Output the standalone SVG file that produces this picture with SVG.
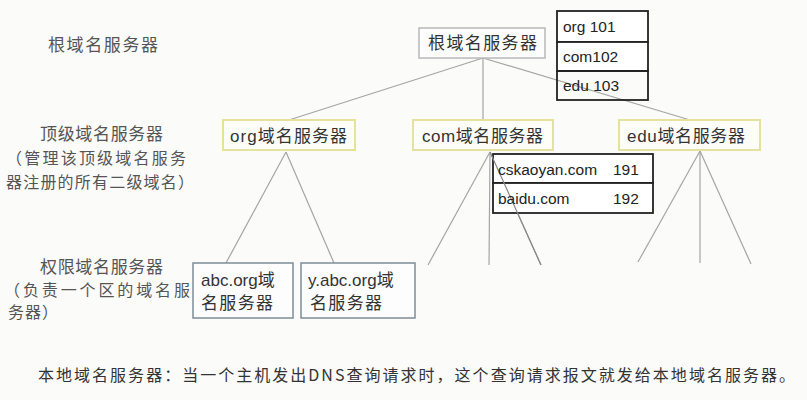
<svg xmlns="http://www.w3.org/2000/svg" width="807" height="400" viewBox="0 0 807 400">
<style>
.bg{fill:#fbfbfa}
.cn{font-family:"Noto Sans CJK SC","Liberation Sans",sans-serif}
.lab{font-family:"Noto Sans CJK SC",sans-serif;font-size:16px;fill:#555}
.box{font-family:"Liberation Sans","Noto Sans CJK SC",sans-serif;font-size:17px;fill:#333}
.tb{font-family:"Liberation Sans","Noto Sans CJK SC",sans-serif;font-size:15.5px;fill:#222}
.yel{fill:#fefef9;stroke:#e4e29c;stroke-width:2}
.gry{fill:#fdfdfd;stroke:#b8b8b8;stroke-width:1.5}
.blu{fill:#fdfdfd;stroke:#7f8c98;stroke-width:1.5}
.tab{fill:#fff;stroke:#222;stroke-width:1.8}
.ln{stroke:#a5a5a5;stroke-width:1.2;fill:none}
</style>
<rect class="bg" x="0" y="0" width="807" height="400"/>

<g id="labels">
<text class="lab" x="48" y="51" textLength="110" lengthAdjust="spacing" style="font-size:17px">根域名服务器</text>
<text class="lab" x="40" y="140" textLength="123" lengthAdjust="spacing" style="font-size:17px">顶级域名服务器</text>
<text class="lab" x="6" y="164" textLength="180" lengthAdjust="spacing">（管理该顶级域名服务</text>
<text class="lab" x="6" y="188" textLength="188" lengthAdjust="spacing">器注册的所有二级域名）</text>
<text class="lab" x="40" y="273" textLength="123" lengthAdjust="spacing" style="font-size:17px">权限域名服务器</text>
<text class="lab" x="4" y="296" textLength="186" lengthAdjust="spacing">（负责一个区的域名服</text>
<text class="lab" x="8" y="318" textLength="50" lengthAdjust="spacing">务器）</text>
<text class="lab" x="38" y="381" textLength="757" lengthAdjust="spacing" style="fill:#333;font-size:16px">本地域名服务器：当一个主机发出DNS查询请求时，这个查询请求报文就发给本地域名服务器。</text>
</g>

<g id="connectors">
<line class="ln" x1="483" y1="58" x2="289" y2="120"/>
<line class="ln" x1="483" y1="58" x2="483" y2="120"/>
<line class="ln" x1="483" y1="58" x2="690" y2="120"/>
<line class="ln" x1="286" y1="152" x2="226" y2="263"/>
<line class="ln" x1="286" y1="152" x2="334" y2="263"/>
<line class="ln" x1="490" y1="152" x2="428" y2="265"/>
<line class="ln" x1="490" y1="152" x2="489" y2="265"/>
<line class="ln" x1="490" y1="152" x2="541" y2="265"/>
<line class="ln" x1="700" y1="151" x2="638" y2="262"/>
<line class="ln" x1="700" y1="151" x2="700" y2="263"/>
<line class="ln" x1="700" y1="151" x2="751" y2="264"/>
</g>

<g id="root">
<rect class="gry" x="419" y="28" width="126" height="30"/>
<text class="box cn" x="428" y="49" textLength="109" lengthAdjust="spacing">根域名服务器</text>
</g>

<g id="root-table">
<rect class="tab" x="557" y="11" width="91" height="31" style="fill:#fff"/>
<rect class="tab" x="557" y="42" width="91" height="29" style="fill:#fff"/>
<rect class="tab" x="557" y="71" width="91" height="29" style="fill:none"/>
<text class="tb" x="563" y="32">org 101</text>
<text class="tb" x="563" y="62">com102</text>
<text class="tb" x="563" y="91">edu 103</text>
</g>

<g id="org">
<rect class="yel" x="223" y="120" width="132" height="30"/>
<text class="box" x="230" y="142" textLength="117" lengthAdjust="spacing">org域名服务器</text>
</g>
<g id="com">
<rect class="yel" x="413" y="120" width="140" height="30"/>
<text class="box" x="422" y="142" textLength="121" lengthAdjust="spacing">com域名服务器</text>
</g>
<g id="edu">
<rect class="yel" x="619" y="120" width="141" height="30"/>
<text class="box" x="627" y="142" textLength="118" lengthAdjust="spacing">edu域名服务器</text>
</g>

<g id="com-table">
<rect class="tab" x="493" y="154" width="160" height="29" style="fill:#fff"/>
<rect class="tab" x="493" y="183" width="160" height="30" style="fill:#fff"/>
<line class="ln" x1="490" y1="152" x2="541" y2="265" style="stroke:#888"/>
<text class="tb" x="498" y="175">cskaoyan.com</text>
<text class="tb" x="613" y="175">191</text>
<text class="tb" x="498" y="204">baidu.com</text>
<text class="tb" x="613" y="204">192</text>
</g>

<g id="abc">
<rect class="blu" x="193" y="263" width="100" height="55"/>
<text class="box" x="201" y="286">abc.org域</text>
<text class="box cn" x="201" y="309" textLength="72" lengthAdjust="spacing">名服务器</text>
</g>
<g id="yabc">
<rect class="blu" x="301" y="263" width="114" height="55"/>
<text class="box" x="308" y="286">y.abc.org域</text>
<text class="box cn" x="310" y="309" textLength="72" lengthAdjust="spacing">名服务器</text>
</g>
</svg>
